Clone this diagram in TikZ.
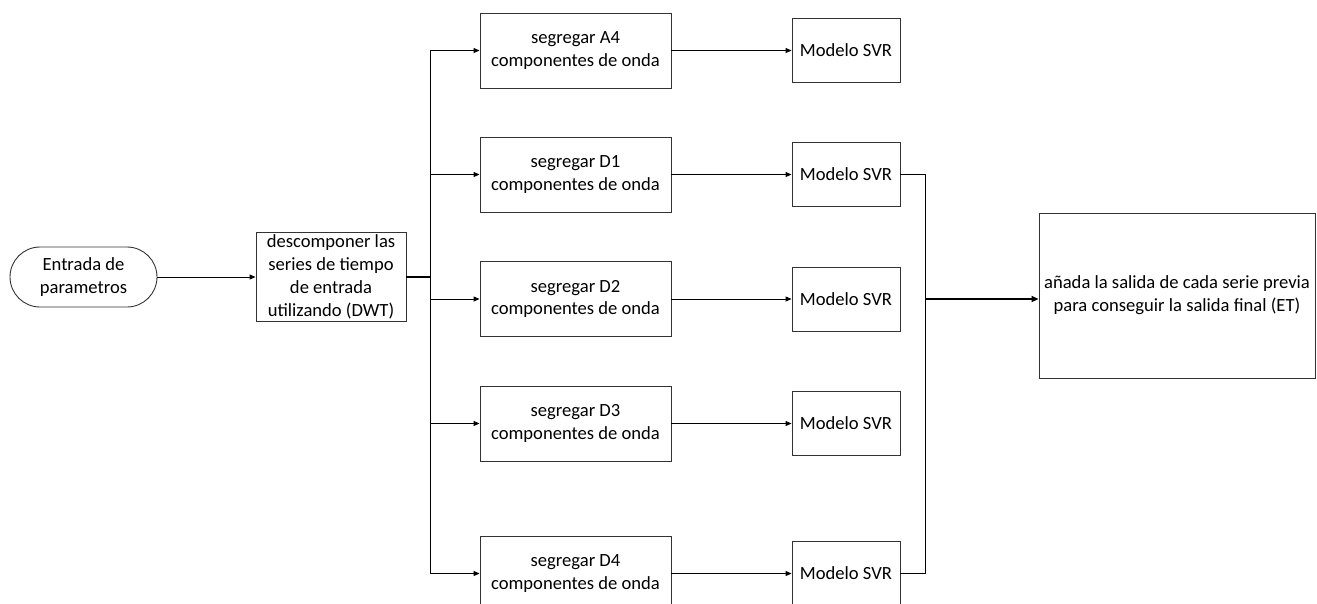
\documentclass[tikz,border=0pt]{standalone}
\usepackage{fontspec}
\setmainfont{Carlito}
\usetikzlibrary{arrows.meta}
\begin{document}
\begin{tikzpicture}[x=1pt,y=-1pt,
  every node/.style={font=\fontsize{18.6}{22.8}\selectfont},
  box/.style={draw=black!80, line width=0.9pt, inner sep=0pt, align=center},
  segbox/.style={box, minimum width=191pt, minimum height=75pt},
  svrbox/.style={box, minimum width=108pt, minimum height=64pt},
  conn/.style={line width=0.9pt, draw=black},
  arr/.style={conn, -{Triangle[length=6pt,width=5pt]}},
  thickconn/.style={line width=1.8pt, draw=black}]
\useasboundingbox (0,0) rectangle (1317,603);
\clip (0,0) rectangle (1317,603);
% nodes
\node[box, rounded corners=30pt, minimum width=147pt, minimum height=60pt] (entrada) at (83.5,277) {Entrada de\\parametros};
\node[box, minimum width=150pt, minimum height=89pt] (dwt) at (331,277) {descomponer las\\series de tiempo\\de entrada\\utilizando (DWT)};
\node[segbox] (sA4) at (575.5,50.5) {segregar A4\\componentes de onda};
\node[segbox] (sD1) at (575.5,174.5) {segregar D1\\componentes de onda};
\node[segbox] (sD2) at (575.5,299) {segregar D2\\componentes de onda};
\node[segbox] (sD3) at (575.5,423.5) {segregar D3\\componentes de onda};
\node[segbox] (sD4) at (575.5,573.5) {segregar D4\\componentes de onda};
\node[svrbox] (mA4) at (846,50.5) {Modelo SVR};
\node[svrbox] (mD1) at (846,174.5) {Modelo SVR};
\node[svrbox] (mD2) at (846,299) {Modelo SVR};
\node[svrbox] (mD3) at (846,423.5) {Modelo SVR};
\node[svrbox] (mD4) at (846,573.5) {Modelo SVR};
\node[box, minimum width=276pt, minimum height=165pt] (final) at (1177,295.5) {añada la salida de cada serie previa\\para conseguir la salida final (ET)};
% bus coordinates
\coordinate (b1top) at (430,50.5);
\coordinate (b1bot) at (430,573.5);
\coordinate (b2top) at (925,174.5);
\coordinate (b2bot) at (925,573.5);
\coordinate (j2) at (925,299);
% connectors
\draw[arr] (entrada.east) -- (dwt.west);
\draw[thickconn] (dwt.east) -- (dwt.east -| b1top);
\draw[conn] (b1top) -- (b1bot);
\foreach \n in {sA4,sD1,sD2,sD3,sD4}{
  \draw[arr] (b1top |- \n.west) -- (\n.west);
}
\foreach \a/\b in {sA4/mA4,sD1/mD1,sD2/mD2,sD3/mD3,sD4/mD4}{
  \draw[arr] (\a.east) -- (\b.west);
}
\draw[conn] (mD1.east) -- (b2top) -- (b2bot) -- (mD4.east);
\draw[thickconn, -{Triangle[length=7pt,width=6pt]}] (j2) -- (j2 -| final.west);
\end{tikzpicture}
\end{document}
